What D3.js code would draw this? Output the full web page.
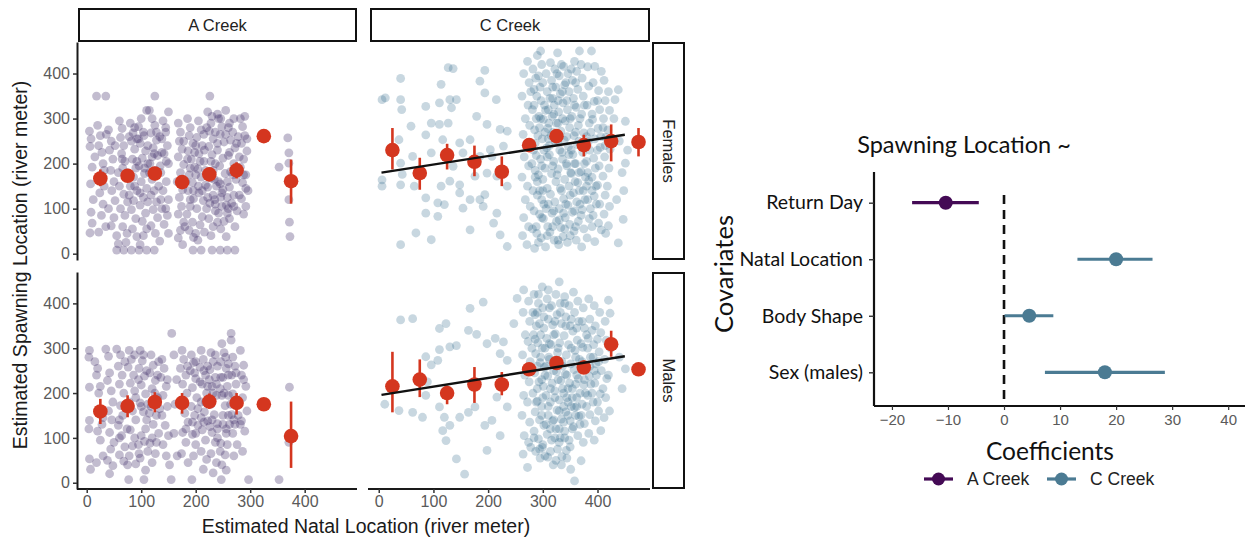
<!DOCTYPE html>
<html><head><meta charset="utf-8">
<script src="https://cdn.jsdelivr.net/npm/d3@7/dist/d3.min.js"></script>
<style>body{margin:0;background:#fff}svg{display:block}</style>
</head><body>
<svg id="chart" width="1250" height="543"></svg>
<script>
// ---------------- DATA ----------------
const creeks = ["A Creek", "C Creek"];
const sexes = ["Females", "Males"];
const xTicksLeft = [0, 100, 200, 300, 400];
const yTicksLeft = [0, 100, 200, 300, 400];

const aFemales = [
[5,272],[8,255],[6,238],[10,192],[7,155],[12,120],[8,92],[10,68],[6,46],[15,215],
[20,285],[25,262],[22,240],[28,225],[30,200],[26,175],[32,150],[24,135],[30,110],[27,85],[35,60],[22,48],
[40,275],[45,250],[42,230],[48,210],[44,185],[50,160],[46,140],[52,118],[40,100],[50,80],[45,62],[55,40],[58,22],
[60,295],[65,278],[62,258],[68,240],[64,222],[70,205],[66,190],[72,170],[60,150],[68,132],[75,115],[62,100],[70,85],[66,60],[74,45],[72,25],
[80,290],[85,268],[82,250],[88,232],[84,210],[90,190],[86,170],[80,150],[92,140],[86,118],[82,98],[90,78],[84,55],[92,38],
[100,300],[95,282],[105,262],[98,245],[108,228],[102,212],[96,195],[106,178],[100,160],[110,145],[104,125],[98,108],[108,90],[102,72],[110,55],[104,40],[98,20],
[115,318],[120,300],[125,285],[118,268],[128,252],[122,235],[130,218],[116,200],[126,185],[120,165],[132,150],[118,130],[128,115],[122,98],[130,80],[118,62],[126,45],[134,28],
[140,295],[145,270],[138,255],[148,240],[142,222],[150,200],[136,180],[146,160],[140,140],[150,120],[138,100],[148,85],[142,65],[150,45],[145,280],
[55,8],[68,8],[82,8],[96,8],[110,8],[124,8],
[18,350],[35,350],[125,350],[110,318],[150,315],
[168,290],[172,270],[170,250],[175,232],[168,215],[178,198],[172,180],[166,160],[176,142],[170,125],[174,105],[168,88],[178,70],[172,52],[168,35],[176,20],
[185,300],[190,280],[188,262],[195,245],[186,228],[192,210],[198,192],[188,175],[194,158],[186,140],[196,122],[190,105],[184,88],[194,70],[188,52],[196,36],
[205,295],[210,275],[202,258],[212,240],[206,222],[215,205],[204,188],[210,170],[218,152],[206,135],[214,118],[202,100],[212,82],[208,64],[216,48],[204,30],
[222,315],[228,290],[225,272],[232,255],[224,238],[230,220],[236,200],[226,182],[234,165],[222,148],[232,130],[226,112],[236,95],[224,78],[232,60],[228,40],
[242,300],[248,282],[245,265],[252,248],[240,230],[250,212],[244,195],[254,178],[242,160],[250,142],[246,125],[256,108],[242,90],[252,72],[246,55],[256,38],
[262,290],[268,270],[264,252],[272,235],[260,218],[270,200],[264,182],[274,165],[262,148],[270,130],[266,112],[276,95],[262,78],[272,60],
[282,300],[286,282],[290,262],[284,245],[294,228],[288,210],[282,192],[292,175],[286,158],[296,140],[284,122],[292,105],[288,88],[294,255],
[226,350],[240,310],[255,318],[270,300],[290,305],
[195,8],[210,8],[230,8],[245,8],[258,8],[272,8],
[353,192],[369,257],[371,224],[371,201],[371,120],[372,70],[373,38],
[88,280],[95,255],[112,240],[120,215],[135,195],[92,205],[106,190],[128,270],[138,225],[115,180],
[200,240],[215,265],[228,205],[240,245],[255,265],[262,225],[232,185],[245,155],[258,125],[220,100],
[235,120],[205,150],[190,120],[180,60],[200,45],[240,70],[260,100],[275,245],[280,215],[220,280],
[65,210],[78,260],[92,255],[104,270],[112,200],[124,222],[134,260],[146,205],[75,180],[88,150],
[98,135],[112,115],[124,140],[136,120],[145,100],[78,130],[58,180],[52,240],[36,265],[32,185],
[178,250],[185,210],[198,225],[208,205],[218,185],[228,168],[238,150],[248,135],[258,160],[268,175],
[278,190],[288,175],[292,145],[280,130],[270,105],[258,90],[248,105],[236,110],[222,125],[212,140],
[200,175],[190,190],[182,160],[196,140],[216,230],[236,270],[260,280],[278,260],[246,300],[230,305]
];

const aMales = [
[5,295],[4,280],[5,213],[5,139],[4,120],[5,53],[7,30],
[15,270],[20,255],[18,240],[25,215],[22,200],[28,130],[20,115],[25,95],[30,60],[18,45],
[35,298],[40,282],[42,245],[38,228],[45,205],[48,180],[40,160],[46,140],[42,112],[50,90],[44,75],[38,50],[48,38],[42,20],
[55,298],[62,285],[58,260],[65,240],[60,220],[68,200],[62,172],[66,150],[58,128],[64,105],[70,80],[60,62],[68,48],
[78,295],[82,275],[76,258],[86,240],[80,222],[88,205],[78,180],[84,160],[90,140],[80,118],[88,100],[84,82],[78,60],[90,42],
[98,295],[102,272],[96,255],[106,238],[100,218],[108,198],[98,178],[104,158],[110,140],[100,105],[106,92],[112,70],[98,55],[108,28],
[118,285],[122,262],[116,245],[126,228],[120,210],[130,190],[118,170],[128,150],[122,130],[132,110],[116,88],[126,65],[120,45],
[138,275],[142,255],[136,235],[146,215],[140,195],[148,170],[138,150],[144,128],[150,105],[140,85],[146,60],[152,40],
[156,333],[160,285],[165,230],[162,175],[160,110],[166,60],
[175,295],[178,275],[172,255],[182,240],[176,220],[184,200],[174,180],[180,155],[186,135],[176,112],[182,90],[174,65],[186,45],
[192,285],[196,268],[190,250],[200,232],[194,212],[202,190],[192,170],[198,150],[204,128],[194,108],[200,85],[196,60],
[210,295],[214,275],[208,258],[218,240],[212,220],[220,200],[210,180],[216,158],[222,138],[212,118],[218,95],[210,70],[220,52],[214,30],
[228,290],[232,270],[226,252],[236,235],[230,215],[238,195],[228,175],[234,152],[240,132],[230,112],[236,90],[228,65],[238,45],[232,22],
[248,310],[252,290],[246,270],[256,255],[250,235],[258,215],[248,195],[254,172],[260,150],[250,130],[256,110],[246,88],[254,62],[248,40],[256,28],
[265,333],[265,318],[268,280],[272,260],[266,240],[274,220],[268,198],[276,175],[266,152],[272,130],[268,110],[276,85],[270,60],
[282,295],[288,262],[284,240],[292,215],[286,190],[294,160],[284,138],[290,115],[286,70],
[77,7],[105,7],[155,7],[193,7],[247,7],[297,7],[353,7],[372,213],[371,90],
[95,230],[110,250],[125,200],[130,240],[100,170],[115,155],[200,270],[215,250],[225,230],[240,260],
[255,280],[260,240],[245,210],[260,195],[250,150],[262,130],[240,120],[230,140],[200,110],[215,135],
[245,70],[258,85],[75,40],[95,85],[120,100],
[70,270],[88,285],[104,285],[132,270],[148,230],[90,190],[112,175],[134,165],[60,140],[74,120],
[108,120],[128,90],[96,65],[60,100],[30,145],
[185,260],[198,245],[208,225],[222,215],[238,220],[252,200],[264,175],[278,150],[282,130],[270,140],
[256,120],[240,100],[226,125],[210,145],[194,135],[182,120],[204,165],[218,180],[232,200],[246,235],
[260,265],[274,245],[288,230],[222,260],[236,285]
];

const cFemales = [
[40,389],[127,413],[136,411],[114,376],[194,407],[185,383],[194,357],[6,342],[12,346],[40,342],[42,320],[86,327],[111,335],[130,342],[142,342],[133,324],
[59,283],[96,290],[127,290],[111,287],[179,305],[215,342],[198,287],[222,276],[37,253],[86,264],[96,224],[62,216],[40,201],[43,176],[6,164],[6,150],
[40,153],[65,150],[114,150],[86,124],[108,113],[120,109],[86,90],[108,83],[68,46],[96,31],[40,20],[167,53],[154,101],[185,120],[191,105],[194,131],
[216,90],[222,42],[235,16],[210,68],[148,135],[136,194],[154,224],[167,253],[148,246],[117,253],[185,216],[207,216],[228,239],[235,272],[204,231],
[176,172],[198,179],[216,172],[235,150],[130,161],[148,153],[167,120],
[265,400],[262,350],[268,300],[264,265],[266,215],[262,170],[268,120],[265,80],[263,40],
[272,427],[275,380],[273,330],[276,285],[271,240],[274,195],[272,150],[277,105],[274,60],[271,20],
[282,410],[284,365],[281,320],[285,275],[283,230],[286,185],[282,140],[284,95],[281,55],[285,12],
[290,440],[292,395],[289,350],[293,305],[291,262],[288,218],[292,175],[290,130],[294,88],[289,45],[292,25],
[296,450],[298,420],[300,380],[297,340],[301,298],[299,255],[296,210],[300,165],[298,120],[301,78],[297,35],
[306,400],[308,360],[305,318],[309,278],[307,235],[304,190],[308,145],[306,100],[309,60],[305,15],
[314,424],[316,385],[313,345],[317,305],[315,262],[312,220],[316,178],[314,132],[317,90],[313,48],
[322,410],[324,370],[321,330],[325,290],[323,248],[320,205],[324,160],[322,115],[325,72],[321,30],
[327,446],[330,395],[332,355],[329,315],[333,272],[331,230],[328,188],[332,145],[330,100],[333,58],[329,20],
[338,416],[340,375],[337,335],[341,295],[339,252],[336,210],[340,165],[338,122],[341,80],[337,38],
[346,400],[348,360],[345,320],[349,280],[347,238],[344,195],[348,150],[346,108],[349,65],[345,25],
[358,427],[354,385],[356,345],[353,305],[357,262],[355,220],[352,178],[356,135],[354,92],[357,50],
[367,450],[362,405],[364,365],[361,325],[365,285],[363,242],[360,200],[364,158],[362,115],[365,72],[361,30],
[372,390],[374,350],[371,310],[375,268],[373,225],[370,182],[374,140],[372,98],[375,55],[371,15],
[389,450],[382,415],[384,372],[381,330],[385,290],[383,248],[380,205],[384,162],[382,120],[385,78],[381,35],
[395,416],[392,380],[394,338],[391,298],[395,255],[393,212],[390,170],[394,128],[392,85],[395,27],
[407,405],[402,362],[404,320],[401,278],[405,236],[403,195],[400,152],[404,110],[402,68],[407,53],
[412,385],[414,340],[411,300],[415,258],[413,215],[410,172],[414,130],[412,88],[415,45],
[420,360],[422,318],[419,275],[423,232],[421,190],[418,150],[422,105],[420,62],
[438,364],[432,342],[451,294],[451,201],[447,76],[438,24],[440,250],[445,180],[435,120],[455,230],[430,300],[448,140],
[287,390],[295,370],[303,330],[311,290],[319,270],[327,250],[335,225],[343,200],[351,180],[359,160],[367,140],[377,120],[387,100],[397,150],
[286,245],[294,280],[302,230],[310,255],[318,195],[326,175],[334,140],[342,110],[350,130],[358,95],[366,180],[376,200],[386,230],[396,190],
[278,360],[288,300],[298,195],[308,215],[318,345],[328,290],[336,360],[344,340],[352,410],[360,380],[370,420],[380,260],[390,310],[400,340],
[280,200],[290,160],[300,140],[310,110],[320,95],[330,75],[340,55],[350,40],[360,60],[370,85],[380,150],[390,60],[400,230],[410,280],
[284,330],[296,300],[304,270],[312,240],[320,310],[328,340],[336,300],[344,260],[352,230],[360,270],[368,300],[376,330],
[286,170],[294,140],[302,110],[310,320],[318,370],[326,400],[334,420],[342,380],[350,300],[358,330],[366,250],[374,240],
[382,180],[390,140],[398,110],[406,260],[414,240],[288,60],[298,80],[308,40],[318,60],[328,30],[338,90],[348,220],
[358,200],[368,110],[378,170],[388,270]
];

const cMales = [
[40,363],[62,366],[11,175],[37,161],[62,157],[86,195],[80,146],[111,344],[123,355],[167,389],[191,403],[164,340],[179,331],[130,303],[142,306],
[111,297],[108,273],[86,281],[96,263],[89,225],[111,169],[120,146],[130,128],[123,94],[117,116],[142,53],[157,19],[198,72],[207,139],[194,128],
[222,105],[235,169],[216,191],[176,169],[164,157],[148,146],[222,288],[235,273],[213,322],[198,310],[228,314],[247,355],[265,430],[299,437],[330,448],[253,411],
[264,380],[268,330],[263,285],[267,240],[265,195],[262,150],[266,105],[264,64],
[272,34],[274,405],[276,360],[273,315],[277,270],[275,225],[272,180],[276,135],[274,90],[278,79],
[284,420],[286,375],[283,330],[287,288],[285,245],[282,200],[286,158],[284,115],[287,70],
[292,400],[294,355],[291,312],[295,268],[293,225],[290,182],[294,140],[292,98],[295,55],
[300,390],[302,345],[299,300],[303,258],[301,215],[298,170],[302,128],[300,85],[299,79],
[309,57],[308,410],[310,365],[307,322],[311,280],[309,238],[306,195],[310,150],[308,108],
[316,395],[318,352],[315,308],[319,265],[317,222],[314,180],[318,138],[316,95],[319,40],
[324,420],[326,375],[323,332],[327,290],[325,248],[322,205],[326,162],[324,120],[327,75],
[332,400],[334,355],[331,312],[335,270],[333,228],[330,185],[334,142],[332,100],[335,58],
[340,415],[342,370],[339,328],[343,285],[341,242],[338,200],[342,158],[340,115],[343,72],
[348,395],[350,350],[347,308],[351,265],[349,222],[346,180],[350,138],[348,95],[351,30],
[356,425],[358,380],[355,338],[359,295],[357,252],[354,210],[358,168],[356,125],[358,4],
[364,405],[366,360],[363,318],[367,275],[365,232],[362,190],[366,148],[364,105],[370,49],
[374,390],[376,345],[373,302],[377,260],[375,218],[372,175],[376,132],[374,90],
[384,410],[386,365],[383,322],[387,280],[385,238],[382,195],[386,152],[384,110],
[394,395],[396,350],[393,308],[397,265],[395,222],[392,180],[396,138],[394,95],
[404,380],[406,335],[403,292],[407,250],[405,198],[402,160],[406,116],
[414,360],[416,318],[413,275],[417,232],[415,190],[412,145],
[420,407],[423,378],[420,240],[424,300],[422,160],
[451,254],[445,210],[440,280],
[288,350],[296,330],[304,300],[312,275],[320,250],[328,230],[336,210],[344,190],[352,170],[360,150],[368,130],[378,200],[388,220],[398,240],
[290,260],[298,230],[306,260],[314,210],[322,190],[330,160],[338,135],[346,150],[354,120],[362,240],[372,270],[382,300],[392,280],
[280,300],[290,210],[300,190],[310,170],[320,140],[330,120],[340,100],[350,80],[360,220],[370,310],[380,330],[390,340],[400,320],
[282,380],[292,420],[302,370],[312,390],[322,360],[332,380],[342,350],[352,365],[362,345],[372,360],
[286,320],[296,280],[304,240],[312,310],[320,330],[328,300],[336,260],[344,240],[352,300],[360,280],[368,200],[376,230],[386,260],[394,250],[402,270],
[288,180],[298,150],[306,130],[314,120],[322,100],[330,90],[338,170],[346,210],[354,190],[362,170],[370,150],[380,170],[390,200],[400,180],[410,210],
[284,100],[294,75],[304,60],[314,70],[324,50],[334,40],[344,55],[290,380],[310,430],[340,400]
];

// binned means (centre, mean, lower, upper)
const binsA = [25, 75, 125, 175, 225, 275, 325, 375];
const binsC = [25, 75, 125, 175, 225, 275, 325, 375, 425, 475];
const aFemMean = [167, 173, 178, 159, 176, 185, 261, 161];
const aFemLo   = [150, 160, 163, 150, 163, 167, 261, 111];
const aFemHi   = [187, 186, 192, 168, 189, 203, 261, 209];
const aMaleMean = [159, 171, 180, 178, 181, 178, 175, 104];
const aMaleLo   = [131, 146, 157, 154, 165, 152, 175, 33];
const aMaleHi   = [187, 195, 202, 200, 199, 200, 175, 181];
const cFemMean = [230, 179, 219, 204, 182, 241, 261, 241, 250, 248];
const cFemLo   = [187, 142, 187, 172, 150, 227, 250, 216, 205, 216];
const cFemHi   = [279, 213, 244, 240, 216, 253, 272, 264, 287, 279];
const cMaleMean = [215, 230, 200, 219, 219, 253, 267, 257, 309, 253];
const cMaleLo   = [157, 191, 175, 178, 195, 240, 254, 243, 281, 253];
const cMaleHi   = [292, 275, 217, 258, 247, 266, 281, 273, 339, 253];

// fitted regression lines (C Creek)
const fitX = [5, 450];
const cFemFitY = [180, 264];
const cMaleFitY = [196, 282];

// coefficient plot
const covariates = ["Return Day", "Natal Location", "Body Shape", "Sex (males)"];
const coefCreek = ["A Creek", "C Creek", "C Creek", "C Creek"];
const coefEst = [-10.4, 20.0, 4.5, 18.0];
const coefLo  = [-16.4, 13.1, 0.1, 7.3];
const coefHi  = [-4.5, 26.5, 8.8, 28.7];
const xTicksRight = [-20, -10, 0, 10, 20, 30, 40];

// ---------------- DRAW ----------------
const svg = d3.select("#chart");
const AX = '"Liberation Sans", Arial, sans-serif';
const CAL = 'Lato, "Open Sans", sans-serif';
const dotCol = {"A Creek": "#45356e", "C Creek": "#2c6388"};
const dotOp = {"A Creek": 0.33, "C Creek": 0.26};
const red = "#d4361f";

const colRange = {"A Creek": [78, 357], "C Creek": [370, 650]};
const rowRange = {"Females": [260, 42], "Males": [489, 272]};
const xs = {}, ys = {};
creeks.forEach(c => xs[c] = d3.scaleLinear().domain([-16, 496]).range(colRange[c]));
sexes.forEach(s => ys[s] = d3.scaleLinear().domain([-14, 470]).range(rowRange[s]));

const panels = [
  {c: "A Creek", s: "Females", pts: aFemales, bins: binsA, m: aFemMean, lo: aFemLo, hi: aFemHi},
  {c: "A Creek", s: "Males", pts: aMales, bins: binsA, m: aMaleMean, lo: aMaleLo, hi: aMaleHi},
  {c: "C Creek", s: "Females", pts: cFemales, bins: binsC, m: cFemMean, lo: cFemLo, hi: cFemHi, fit: cFemFitY},
  {c: "C Creek", s: "Males", pts: cMales, bins: binsC, m: cMaleMean, lo: cMaleLo, hi: cMaleHi, fit: cMaleFitY}
];

panels.forEach(p => {
  const x = xs[p.c], y = ys[p.s];
  const g = svg.append("g");
  g.selectAll("circle.pt").data(p.pts).join("circle")
    .attr("cx", d => x(d[0])).attr("cy", d => y(d[1])).attr("r", 4.4)
    .attr("fill", dotCol[p.c]).attr("fill-opacity", dotOp[p.c]);
  const mean = p.bins.map((b, i) => ({b, m: p.m[i], lo: p.lo[i], hi: p.hi[i]}));
  g.selectAll("line.eb").data(mean).join("line")
    .attr("x1", d => x(d.b)).attr("x2", d => x(d.b))
    .attr("y1", d => y(d.lo)).attr("y2", d => y(d.hi))
    .attr("stroke", red).attr("stroke-width", 2.6);
  g.selectAll("circle.mn").data(mean).join("circle")
    .attr("cx", d => x(d.b)).attr("cy", d => y(d.m)).attr("r", 7.3)
    .attr("fill", red);
  if (p.fit) {
    g.append("line").attr("x1", x(fitX[0])).attr("x2", x(fitX[1]))
      .attr("y1", y(p.fit[0])).attr("y2", y(p.fit[1]))
      .attr("stroke", "#111").attr("stroke-width", 2.4);
  }
});

// axes (left column y, bottom row x)
function styleAxis(g) {
  g.select(".domain").attr("stroke", "#1a1a1a").attr("stroke-width", 2);
  g.selectAll(".tick line").attr("stroke", "#333").attr("stroke-width", 1.5);
  g.selectAll(".tick text").attr("fill", "#5a5a5a").style("font-family", AX).style("font-size", "16px");
}
sexes.forEach(s => {
  const g = svg.append("g").attr("transform", "translate(77,0)")
    .call(d3.axisLeft(ys[s]).tickValues(yTicksLeft).tickSize(4).tickSizeOuter(0).tickPadding(3));
  styleAxis(g);
});
creeks.forEach(c => {
  const g = svg.append("g").attr("transform", "translate(0,489)")
    .call(d3.axisBottom(xs[c]).tickValues(xTicksLeft).tickSize(4).tickSizeOuter(0).tickPadding(3));
  styleAxis(g);
  g.select(".domain").attr("d", `M${colRange[c][0] - (c === "A Creek" ? 1 : 2)},0H${colRange[c][1]}`);
});

// strips
creeks.forEach(c => {
  const [x0, x1] = colRange[c];
  svg.append("rect").attr("x", x0 + 1).attr("y", 9).attr("width", x1 - x0 - 2).attr("height", 32)
    .attr("fill", "#fff").attr("stroke", "#111").attr("stroke-width", 2);
  svg.append("text").attr("x", (x0 + x1) / 2).attr("y", 25).attr("dy", "0.35em")
    .attr("text-anchor", "middle").style("font-family", AX).style("font-size", "16.5px")
    .attr("fill", "#222").text(c);
});
sexes.forEach(s => {
  const [y1, y0] = rowRange[s];
  svg.append("rect").attr("x", 653).attr("y", y0 + 1).attr("width", 31).attr("height", y1 - y0 - 2)
    .attr("fill", "#fff").attr("stroke", "#111").attr("stroke-width", 2);
  svg.append("text").attr("transform", `translate(668.5,${(y0 + y1) / 2}) rotate(90)`)
    .attr("dy", "0.35em").attr("text-anchor", "middle")
    .style("font-family", AX).style("font-size", "16.5px").attr("fill", "#222").text(s);
});

// axis titles
svg.append("text").attr("x", 366).attr("y", 533).attr("text-anchor", "middle")
  .style("font-family", AX).style("font-size", "19.5px").attr("fill", "#1a1a1a")
  .text("Estimated Natal Location (river meter)");
svg.append("text").attr("transform", "translate(27,265) rotate(-90)").attr("text-anchor", "middle")
  .style("font-family", AX).style("font-size", "19.5px").attr("fill", "#1a1a1a")
  .text("Estimated Spawning Location (river meter)");

// ---------------- coefficient plot ----------------
const coefCol = {"A Creek": "#440a55", "C Creek": "#4b7b93"};
const xr = d3.scaleLinear().domain([-23.2, 43]).range([874, 1245]);
const yr = d3.scalePoint().domain(covariates).range([202.7, 372.3]);

const gy = svg.append("g").attr("transform", "translate(874,0)")
  .call(d3.axisLeft(yr).tickSize(5).tickSizeOuter(0).tickPadding(6));
gy.select(".domain").attr("d", "M0,172V406").attr("stroke", "#111").attr("stroke-width", 2.2);
gy.selectAll(".tick line").attr("stroke", "#333").attr("stroke-width", 1.4);
gy.selectAll(".tick text").attr("fill", "#111").style("font-family", CAL).style("font-size", "19.5px");

const gx = svg.append("g").attr("transform", "translate(0,406)")
  .call(d3.axisBottom(xr).tickValues(xTicksRight).tickSize(4).tickSizeOuter(0).tickPadding(4)
    .tickFormat(d => d < 0 ? "\u2212" + Math.abs(d) : String(d)));
gx.select(".domain").attr("d", "M874,0H1245").attr("stroke", "#111").attr("stroke-width", 2.2);
gx.selectAll(".tick line").attr("stroke", "#333").attr("stroke-width", 1.2);
gx.selectAll(".tick text").attr("fill", "#5a5a5a").style("font-family", AX).style("font-size", "15px");

svg.append("line").attr("x1", xr(0)).attr("x2", xr(0)).attr("y1", 195).attr("y2", 405)
  .attr("stroke", "#111").attr("stroke-width", 2.6).attr("stroke-dasharray", "9,6");

const coefs = covariates.map((c, i) => ({c, creek: coefCreek[i], est: coefEst[i], lo: coefLo[i], hi: coefHi[i]}));
svg.selectAll("line.ci").data(coefs).join("line")
  .attr("x1", d => xr(d.lo)).attr("x2", d => xr(d.hi))
  .attr("y1", d => yr(d.c)).attr("y2", d => yr(d.c))
  .attr("stroke", d => coefCol[d.creek]).attr("stroke-width", 3.2);
svg.selectAll("circle.est").data(coefs).join("circle")
  .attr("cx", d => xr(d.est)).attr("cy", d => yr(d.c)).attr("r", 7)
  .attr("fill", d => coefCol[d.creek]);

svg.append("text").attr("x", 964).attr("y", 153).attr("text-anchor", "middle")
  .style("font-family", CAL).style("font-size", "23.5px").attr("fill", "#111").text("Spawning Location ~");
svg.append("text").attr("x", 1050).attr("y", 460).attr("text-anchor", "middle")
  .style("font-family", CAL).style("font-size", "24.5px").attr("fill", "#111").text("Coefficients");
svg.append("text").attr("transform", "translate(733,274) rotate(-90)").attr("text-anchor", "middle")
  .style("font-family", CAL).style("font-size", "25.5px").attr("fill", "#111").text("Covariates");

// legend
const legendItems = creeks.map((c, i) => ({c, x: [924, 1047][i]}));
const lg = svg.append("g");
legendItems.forEach(d => {
  lg.append("line").attr("x1", d.x).attr("x2", d.x + 29).attr("y1", 479).attr("y2", 479)
    .attr("stroke", coefCol[d.c]).attr("stroke-width", 3.2);
  lg.append("circle").attr("cx", d.x + 14.5).attr("cy", 479).attr("r", 6.5).attr("fill", coefCol[d.c]);
  lg.append("text").attr("x", d.x + 43).attr("y", 479).attr("dy", "0.35em")
    .style("font-family", AX).style("font-size", "17.5px").attr("fill", "#222").text(d.c);
});
</script>
</body></html>
